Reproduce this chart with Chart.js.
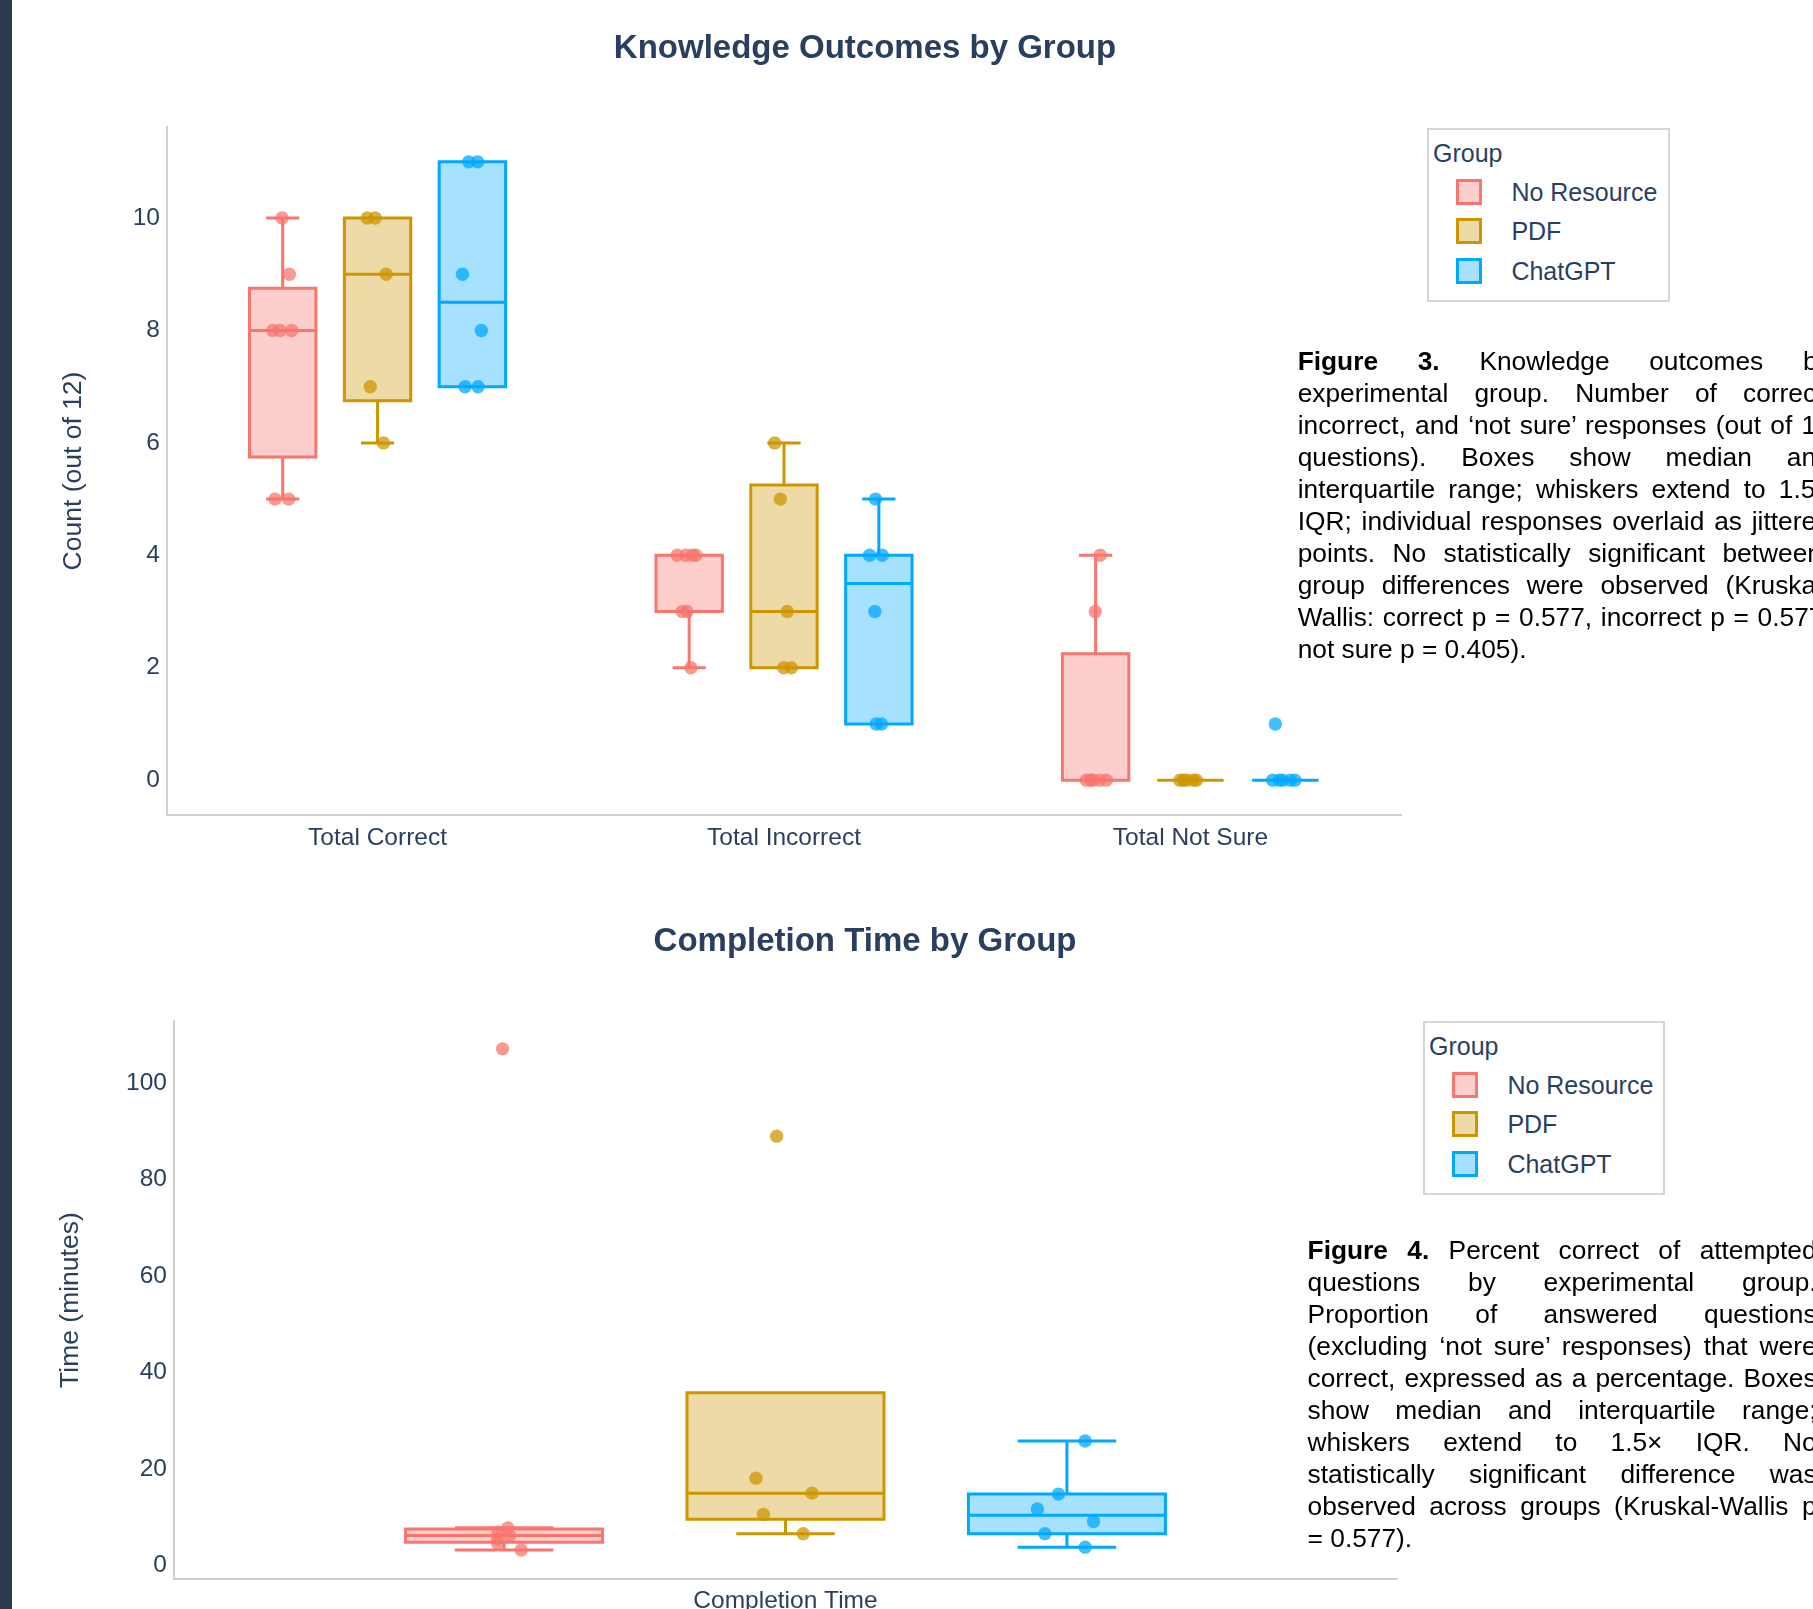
<!DOCTYPE html>
<html>
<head>
<meta charset="utf-8">
<script src="https://cdn.jsdelivr.net/npm/chart.js@4.4.1/dist/chart.umd.min.js"></script>
<style>
  html, body { margin: 0; padding: 0; }
  body { width: 1813px; height: 1609px; overflow: hidden; background: #fff; position: relative;
         font-family: "Liberation Sans", Arial, sans-serif; }
  #edge { position: absolute; left: 0; top: 0; width: 12px; height: 1609px; background: #2d3a4e; }
  .panel { position: absolute; left: 12px; }
  .legend { position: absolute; height: 170px; border: 2px solid #d6d6d6; background: #fff;
            color: #2a3f5f; font-size: 25px; }
  .legend .ttl { position: absolute; left: 4px; top: 7.5px; line-height: 30px; white-space: nowrap; }
  .legend .item { position: absolute; left: 27px; height: 30px; line-height: 30px; white-space: nowrap; }
  .legend .sw { position: absolute; left: 0; top: 2px; width: 20px; height: 20px; border: 3px solid; }
  .legend .lab { position: absolute; left: 55.4px; top: 0; }
  .caption { position: absolute; font-size: 26.3px; line-height: 32px; color: #000; }
  .caption div { text-align: justify; text-align-last: justify; height: 32px; }
  .caption div.last { text-align: left; text-align-last: left; }
</style>
</head>
<body>
<div id="edge"></div>

<div class="panel" style="top:0px;width:1706px;height:880px">
  <canvas id="knowledge" width="1706" height="880" style="width:1706px;height:880px"></canvas>
</div>
<div class="panel" style="top:893px;width:1706px;height:716px">
  <canvas id="completion" width="1706" height="716" style="width:1706px;height:716px"></canvas>
</div>

<div class="legend" id="legendKnowledge" style="left:1427px;top:128px;width:239px"></div>
<div class="legend" id="legendCompletion" style="left:1423px;top:1021px;width:238px"></div>

<div class="caption" style="left:1297.7px;top:345.1px;width:533px">
  <div><b>Figure 3.</b> Knowledge outcomes by</div>
  <div>experimental group. Number of correct,</div>
  <div>incorrect, and ‘not sure’ responses (out of 12</div>
  <div>questions). Boxes show median and</div>
  <div>interquartile range; whiskers extend to 1.5×</div>
  <div>IQR; individual responses overlaid as jittered</div>
  <div>points. No statistically significant between-</div>
  <div>group differences were observed (Kruskal-</div>
  <div>Wallis: correct p = 0.577, incorrect p = 0.577,</div>
  <div class="last">not sure p = 0.405).</div>
</div>

<div class="caption" style="left:1307.6px;top:1233.5px;width:509px">
  <div><b>Figure 4.</b> Percent correct of attempted</div>
  <div>questions by experimental group.</div>
  <div>Proportion of answered questions</div>
  <div>(excluding ‘not sure’ responses) that were</div>
  <div>correct, expressed as a percentage. Boxes</div>
  <div>show median and interquartile range;</div>
  <div>whiskers extend to 1.5× IQR. No</div>
  <div>statistically significant difference was</div>
  <div>observed across groups (Kruskal-Wallis p</div>
  <div class="last">= 0.577).</div>
</div>

<script>
// ---- data -------------------------------------------------------------
const categories = ['Total Correct', 'Total Incorrect', 'Total Not Sure'];
const timeCategories = ['Completion Time'];
const groups = ['No Resource', 'PDF', 'ChatGPT'];

// responses per participant (count out of 12 questions)
const correctNoResource   = [10, 9, 8, 8, 8, 5, 5];
const correctPDF          = [10, 10, 9, 7, 6];
const correctChatGPT      = [11, 11, 9, 8, 7, 7];
const incorrectNoResource = [4, 4, 4, 4, 3, 3, 2];
const incorrectPDF        = [6, 5, 3, 2, 2];
const incorrectChatGPT    = [5, 4, 4, 3, 1, 1];
const notSureNoResource   = [4, 3, 0, 0, 0, 0, 0];
const notSurePDF          = [0, 0, 0, 0, 0];
const notSureChatGPT      = [1, 0, 0, 0, 0, 0];

// completion time per participant (minutes)
const timeNoResource = [107.1, 7.8, 6.9, 6.2, 5.5, 4.6, 3.2];
const timePDF        = [89.0, 18.1, 15.0, 10.6, 6.6];
const timeChatGPT    = [25.8, 14.8, 11.7, 9.1, 6.6, 3.8];

const countTicks = [0, 2, 4, 6, 8, 10];
const timeTicks  = [0, 20, 40, 60, 80, 100];

// ---- styling ------------------------------------------------------------
const groupColors = ['#F8766D', '#CD9600', '#00A9FF'];
const TEXT = '#2a3f5f';
const AXIS_LINE = '#d0d0d0';
const FONT = '"Liberation Sans", Arial, sans-serif';
const STROKE = 3;

// sideways spread of the response markers, as a fraction of half a box width
const spreadNoResource = [
  [-0.02, 0.2, -0.3, -0.08, 0.27, -0.23, 0.18],
  [-0.36, -0.1, 0.1, 0.2, -0.21, -0.06, 0.05],
  [0.14, -0.01, -0.28, -0.08, 0.32, -0.15, 0.12]
];
const spreadPDF = [
  [-0.31, -0.07, 0.26, -0.22, 0.18],
  [-0.28, -0.11, 0.1, -0.01, 0.22],
  [-0.32, -0.12, 0.18, -0.21, 0.09]
];
const spreadChatGPT = [
  [-0.11, 0.16, -0.3, 0.27, -0.22, 0.17],
  [-0.1, -0.28, 0.1, -0.12, -0.08, 0.08],
  [-0.3, -0.38, -0.08, 0.29, -0.18, 0.15]
];
const spreadTime = [
  [[-0.016, 0.038, -0.06, 0.056, -0.066, -0.064, 0.174]],
  [[-0.09, -0.3, 0.27, -0.225, 0.18]],
  [[0.185, -0.086, -0.3, 0.27, -0.224, 0.185]]
];

// each category is shared by three boxes; gaps of 30% between groups and boxes
const SLOT = 0.7 / 3;
const BOX_W = SLOT * 0.7;

Chart.defaults.font.family = FONT;
Chart.defaults.color = TEXT;

function rgba(hex, a) {
  const n = parseInt(hex.slice(1), 16);
  return 'rgba(' + (n >> 16) + ',' + ((n >> 8) & 255) + ',' + (n & 255) + ',' + a + ')';
}

// midpoint-interpolated quantile
function quantile(sorted, p) {
  const n = sorted.length;
  const pos = Math.max(0, Math.min(n - 1, n * p - 0.5));
  const lo = Math.floor(pos), hi = Math.ceil(pos);
  return sorted[lo] + (pos - lo) * (sorted[hi] - sorted[lo]);
}

function boxStats(values) {
  const s = values.slice().sort((a, b) => a - b);
  const q1 = quantile(s, 0.25), med = quantile(s, 0.5), q3 = quantile(s, 0.75);
  const iqr = q3 - q1;
  const inside = s.filter(v => v >= q1 - 1.5 * iqr && v <= q3 + 1.5 * iqr);
  return { q1, med, q3, lo: Math.min(q1, ...inside), hi: Math.max(q3, ...inside) };
}

function boxDatasets(seriesByGroup, spreadByGroup, boxPx) {
  const out = [];
  seriesByGroup.forEach((series, g) => {
    const col = groupColors[g];
    const off = (g - 1) * SLOT;
    const stats = series.map(boxStats);

    // translucent box body from Q1 to Q3
    out.push({
      type: 'bar', label: groups[g], order: 3,
      data: stats.map((st, i) => ({ x: i + off, y: [st.q1, st.q3] })),
      backgroundColor: rgba(col, 0.35), borderColor: col, borderWidth: 0,
      borderSkipped: false, grouped: false, barThickness: boxPx, inflateAmount: 0
    });

    // box outline, median bar, whiskers and caps as one broken line
    const hw = BOX_W / 2, cw = BOX_W / 4;
    const seg = [];
    stats.forEach((st, i) => {
      const cx = i + off;
      seg.push({ x: cx - hw, y: st.q1 }, { x: cx + hw, y: st.q1 }, { x: cx + hw, y: st.q3 },
               { x: cx - hw, y: st.q3 }, { x: cx - hw, y: st.q1 }, { x: cx + hw, y: st.q1 },
               { x: cx, y: null });
      seg.push({ x: cx - hw, y: st.med }, { x: cx + hw, y: st.med }, { x: cx, y: null });
      if (st.lo < st.q1) {
        seg.push({ x: cx, y: st.q1 }, { x: cx, y: st.lo }, { x: cx, y: null },
                 { x: cx - cw, y: st.lo }, { x: cx + cw, y: st.lo }, { x: cx, y: null });
      }
      if (st.hi > st.q3) {
        seg.push({ x: cx, y: st.q3 }, { x: cx, y: st.hi }, { x: cx, y: null },
                 { x: cx - cw, y: st.hi }, { x: cx + cw, y: st.hi }, { x: cx, y: null });
      }
    });
    out.push({
      type: 'line', label: groups[g] + ' outline', order: 2, data: seg,
      borderColor: col, borderWidth: STROKE, pointRadius: 0, spanGaps: false,
      fill: false, tension: 0, borderCapStyle: 'butt', borderJoinStyle: 'miter'
    });

    // every individual response
    const pts = [];
    series.forEach((vals, i) => vals.forEach((v, k) => {
      pts.push({ x: i + off + spreadByGroup[g][i][k] * BOX_W / 2, y: v });
    }));
    out.push({
      type: 'scatter', label: groups[g] + ' responses', order: 1, data: pts,
      pointRadius: 6.7, pointBackgroundColor: rgba(col, 0.75), pointBorderWidth: 0
    });
  });
  return out;
}

function makeChart(id, o) {
  return new Chart(document.getElementById(id), {
    type: 'bar',
    data: { datasets: boxDatasets(o.series, o.spread, o.boxPx) },
    options: {
      responsive: false, animation: false, devicePixelRatio: 1, events: [],
      layout: { padding: 0 },
      plugins: {
        legend: { display: false }, tooltip: { enabled: false },
        title: {
          display: true, text: o.title, color: TEXT,
          font: { size: 33, weight: 'bold', family: FONT },
          padding: { top: o.titleTop, bottom: o.titleBottom }
        }
      },
      scales: {
        x: {
          type: 'linear', offset: false, min: o.xMin, max: o.xMax,
          grid: { display: false, drawTicks: false },
          border: { display: true, color: AXIS_LINE, width: 2 },
          afterBuildTicks: s => { s.ticks = o.categories.map((c, i) => ({ value: i })); },
          afterFit: s => { s.height = o.xHeight; },
          ticks: {
            autoSkip: false, maxRotation: 0, minRotation: 0, padding: o.xPad, color: TEXT,
            font: { size: 24.5 }, callback: (v, i) => o.categories[i]
          }
        },
        y: {
          type: 'linear', position: 'left', min: o.yMin, max: o.yMax, beginAtZero: false,
          grid: { display: false, drawTicks: false },
          border: { display: true, color: AXIS_LINE, width: 2 },
          afterBuildTicks: s => { s.ticks = o.yTicks.map(v => ({ value: v })); },
          afterFit: s => { s.width = o.yWidth; },
          ticks: { padding: 7, color: TEXT, font: { size: 24.5 } },
          title: {
            display: true, text: o.yTitle, color: TEXT, font: { size: 26.5 },
            padding: { top: o.yTitlePad, bottom: 0 }
          }
        },
        side: {
          type: 'linear', position: 'right', display: true,
          grid: { display: false, drawTicks: false }, border: { display: false },
          ticks: { display: false },
          afterFit: s => { s.width = o.sideWidth; }
        }
      }
    }
  });
}

function buildLegend(chart, el) {
  const ttl = document.createElement('div');
  ttl.className = 'ttl';
  ttl.textContent = 'Group';
  el.appendChild(ttl);
  chart.data.datasets.filter(d => d.type === 'bar').forEach((d, k) => {
    const item = document.createElement('div');
    item.className = 'item';
    item.style.top = (46.5 + 39.5 * k) + 'px';
    const sw = document.createElement('div');
    sw.className = 'sw';
    sw.style.background = d.backgroundColor;
    sw.style.borderColor = d.borderColor;
    const lab = document.createElement('div');
    lab.className = 'lab';
    lab.textContent = d.label;
    item.appendChild(sw);
    item.appendChild(lab);
    el.appendChild(item);
  });
}

const knowledgeChart = makeChart('knowledge', {
  title: 'Knowledge Outcomes by Group', titleTop: 28.8, titleBottom: 58.6,
  categories: categories,
  series: [
    [correctNoResource, incorrectNoResource, notSureNoResource],
    [correctPDF, incorrectPDF, notSurePDF],
    [correctChatGPT, incorrectChatGPT, notSureChatGPT]
  ],
  spread: [spreadNoResource, spreadPDF, spreadChatGPT],
  boxPx: 66.4,
  xMin: -0.518, xMax: 2.518, xHeight: 65, xPad: 9,
  yMin: -0.62, yMax: 11.62, yTicks: countTicks, yWidth: 155,
  yTitle: 'Count (out of 12)', yTitlePad: 45.7, sideWidth: 317
});

const completionChart = makeChart('completion', {
  title: 'Completion Time by Group', titleTop: 29.2, titleBottom: 59.4,
  categories: timeCategories,
  series: [[timeNoResource], [timePDF], [timeChatGPT]],
  spread: spreadTime,
  boxPx: 197,
  xMin: -0.507, xMax: 0.507, xHeight: 30, xPad: 7.5,
  yMin: -2.8, yMax: 112.83, yTicks: timeTicks, yWidth: 162,
  yTitle: 'Time (minutes)', yTitlePad: 42.4, sideWidth: 321
});

buildLegend(knowledgeChart, document.getElementById('legendKnowledge'));
buildLegend(completionChart, document.getElementById('legendCompletion'));
</script>
</body>
</html>
